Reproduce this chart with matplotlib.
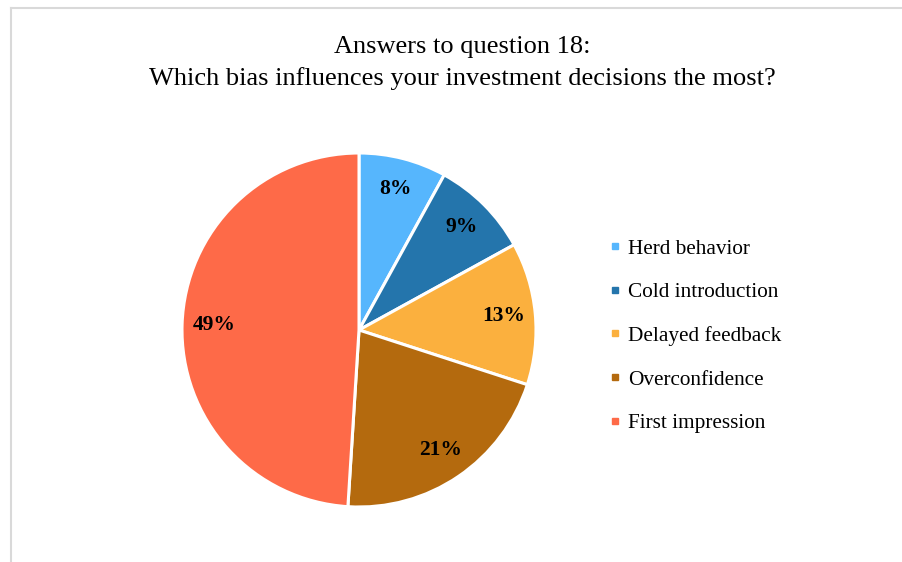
import matplotlib
matplotlib.use('Agg')

import matplotlib.pyplot as plt
from matplotlib.lines import Line2D

categories = ['Herd behavior', 'Cold introduction', 'Delayed feedback',
              'Overconfidence', 'First impression']
shares = [8, 9, 13, 21, 49]
colors = ['#56B6FD', '#2475AC', '#FBB03E', '#B46A0E', '#FE6A48']

plt.rcParams['font.family'] = ['Liberation Serif', 'DejaVu Serif']

W, H = 902, 562
fig = plt.figure(figsize=(W / 100, H / 100), dpi=100)

# frame of the chart area (only top and left edges are in view)
fig.add_artist(Line2D([10.5 / W, 1], [1 - 7.5 / H, 1 - 7.5 / H],
                      transform=fig.transFigure, color='#d9d9d9', lw=1.5))
fig.add_artist(Line2D([10.5 / W, 10.5 / W], [0, 1 - 7.5 / H],
                      transform=fig.transFigure, color='#d9d9d9', lw=1.5))

fig.text(462 / W, 1 - 47 / H, 'Answers to question 18:', ha='center', va='center',
         fontsize=19)
fig.text(462 / W, 1 - 79 / H, 'Which bias influences your investment decisions the most?',
         ha='center', va='center', fontsize=19)

cx, cy, r = 359, 330, 177
ax = fig.add_axes([(cx - r) / W, (H - cy - r) / H, 2 * r / W, 2 * r / H])
wedges, texts = ax.pie(shares, colors=colors, startangle=90, counterclock=False,
                       labels=[f'{s}%' for s in shares], labeldistance=0.82,
                       wedgeprops=dict(edgecolor='white', linewidth=2.2))
for t in texts:
    t.set_ha('center')
    t.set_va('center')
    t.set_fontsize(15.5)
    t.set_fontweight('bold')
ax.set_xlim(-1, 1)
ax.set_ylim(-1, 1)
ax.axis('off')

handles = [Line2D([], [], marker='s', ls='none', markersize=5, color=c) for c in colors]
fig.legend(handles, categories, loc='upper left', bbox_to_anchor=(599 / W, 1 - 228 / H),
           frameon=False, fontsize=15.3, handlelength=0.5, handletextpad=0.35,
           labelspacing=1.12, borderpad=0)

fig.savefig('out.png', dpi=100)
